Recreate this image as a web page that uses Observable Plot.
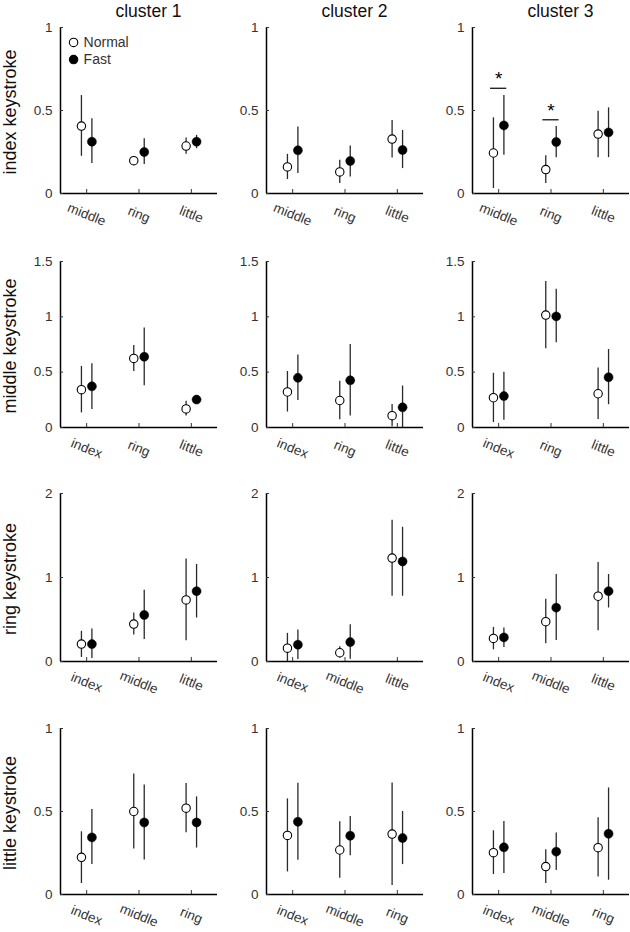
<!DOCTYPE html>
<html><head><meta charset="utf-8">
<script src="https://cdn.jsdelivr.net/npm/d3@7"></script>
<script src="https://cdn.jsdelivr.net/npm/@observablehq/plot@0.6"></script>
<style>
body{margin:0;background:#fff;}
#chart{position:relative;width:630px;height:932px;overflow:hidden;font-family:"Liberation Sans",Arial,sans-serif;background:#fff;}
.panel{position:absolute;}
.title{position:absolute;font-size:17.5px;line-height:1;color:#111;transform:translateX(-50%);white-space:nowrap;}
.ylab{position:absolute;font-size:18px;line-height:1;color:#111;white-space:nowrap;transform:translate(-50%,-50%) rotate(-90deg);}
</style></head><body><div id="chart"></div>
<script>
// ---- data ----
const clusters = ["cluster 1", "cluster 2", "cluster 3"];
const rowLabels = ["index keystroke", "middle keystroke", "ring keystroke", "little keystroke"];
const rowFingers = [["middle","ring","little"],["index","ring","little"],["index","middle","little"],["index","middle","ring"]];
const yMax = [1, 1.5, 2, 1];
const yTicks = [[0,0.5,1],[0,0.5,1,1.5],[0,1,2],[0,0.5,1]];
const legendLabels = ["Normal", "Fast"];
const legendLevels = [0.91, 0.807];

const normalMean = [
  [[0.406,0.198,0.286],[0.16,0.13,0.328],[0.244,0.144,0.358]],
  [[0.342,0.624,0.168],[0.321,0.244,0.107],[0.269,1.016,0.305]],
  [[0.207,0.446,0.733],[0.159,0.104,1.231],[0.275,0.474,0.777]],
  [[0.224,0.5,0.52],[0.356,0.268,0.364],[0.252,0.168,0.282]]
];
const normalLo = [
  [[0.224,0.19,0.236],[0.084,0.06,0.214],[0.03,0.06,0.216]],
  [[0.132,0.507,0.105],[0.14,0.071,0.006],[0.045,0.711,0.072]],
  [[0.048,0.315,0.247],[0,0.04,0.777],[0.139,0.211,0.367]],
  [[0.066,0.274,0.372],[0.136,0.098,0.054],[0.12,0.066,0.106]]
];
const normalHi = [
  [[0.59,0.205,0.334],[0.236,0.2,0.44],[0.456,0.228,0.496]],
  [[0.552,0.741,0.237],[0.506,0.417,0.208],[0.49,1.32,0.538]],
  [[0.359,0.578,1.219],[0.335,0.175,1.681],[0.406,0.741,1.179]],
  [[0.378,0.726,0.668],[0.576,0.438,0.672],[0.384,0.27,0.462]]
];
const fastMean = [
  [[0.312,0.25,0.312],[0.26,0.196,0.262],[0.41,0.31,0.368]],
  [[0.372,0.639,0.252],[0.449,0.426,0.182],[0.284,1.004,0.454]],
  [[0.207,0.554,0.837],[0.2,0.231,1.191],[0.287,0.641,0.837]],
  [[0.344,0.434,0.434],[0.438,0.354,0.34],[0.284,0.258,0.366]]
];
const fastLo = [
  [[0.18,0.174,0.27],[0.12,0.10,0.15],[0.23,0.216,0.216]],
  [[0.162,0.378,0.245],[0.244,0.104,0],[0.066,0.765,0.206]],
  [[0.036,0.263,0.518],[0.024,0.028,0.777],[0.167,0.251,0.637]],
  [[0.18,0.208,0.28],[0.206,0.234,0.18],[0.126,0.144,0.086]]
];
const fastHi = [
  [[0.45,0.33,0.35],[0.40,0.286,0.38],[0.59,0.404,0.516]],
  [[0.576,0.90,0.26],[0.655,0.75,0.375],[0.499,1.249,0.705]],
  [[0.386,0.849,1.155],[0.375,0.438,1.598],[0.398,1.036,1.036]],
  [[0.512,0.66,0.588],[0.67,0.47,0.50],[0.44,0.37,0.642]]
];
// significance markers (row 0, cluster 3)
const sigRow = 0, sigCol = 2;
const sigCategory = [1, 2];
const sigLevel = [0.634, 0.444];

// ---- layout ----
const colAxisX = [60, 266, 472];
const rowTop = [27, 261, 493, 728];
const rowFrameH = [166, 166, 168, 166];
const frameW = 157;
const mL = 40, mR = 4, mT = 12, mB = 38;

const chart = document.getElementById("chart");

function panel(r, c) {
  const rows = [];
  for (let k = 0; k < 3; k++) {
    rows.push({pos: k + 1 - 0.1, mean: normalMean[r][c][k], lo: normalLo[r][c][k], hi: normalHi[r][c][k], cond: "Normal"});
    rows.push({pos: k + 1 + 0.1, mean: fastMean[r][c][k], lo: fastLo[r][c][k], hi: fastHi[r][c][k], cond: "Fast"});
  }
  const marks = [
    Plot.ruleX(rows, {x: "pos", y1: "lo", y2: "hi", stroke: "#2a2a2a", strokeWidth: 1.3}),
    Plot.dot(rows, {filter: d => d.cond === "Normal", x: "pos", y: "mean", r: 4.2, fill: "#fff", stroke: "#000", strokeWidth: 1.1}),
    Plot.dot(rows, {filter: d => d.cond === "Fast", x: "pos", y: "mean", r: 4.5, fill: "#000", stroke: "#000", strokeWidth: 0.5}),
    Plot.ruleX([0.5], {stroke: "#000", strokeWidth: 1.5}),
    Plot.ruleY([0], {stroke: "#000", strokeWidth: 1.5}),
    Plot.axisY({ticks: yTicks[r], tickSize: -3, tickPadding: 11, tickFormat: d => String(d), fontSize: 13.5, color: "#333", label: null}),
    Plot.axisX({ticks: [1, 2, 3], tickSize: -4, tickFormat: () => "", label: null, color: "#333"}),
    Plot.text(rowFingers[r], {x: (d, i) => i + 1, frameAnchor: "bottom", dy: 21, rotate: 22, text: d => d, fontSize: 13.5, fill: "#333", textAnchor: "middle", lineAnchor: "middle"})
  ];
  if (r === 0 && c === 0) {
    marks.push(
      Plot.dot(legendLabels, {x: () => 0.75, y: (d, i) => legendLevels[i], r: 4.2, fill: (d, i) => i === 0 ? "#fff" : "#000", stroke: "#000", strokeWidth: 1.1}),
      Plot.text(legendLabels, {x: () => 0.75, y: (d, i) => legendLevels[i], text: d => d, dx: 10, textAnchor: "start", fontSize: 14, fill: "#333"})
    );
  }
  if (r === sigRow && c === sigCol) {
    marks.push(
      Plot.ruleY(sigLevel, {y: d => d, x1: (d, i) => sigCategory[i] - 0.155, x2: (d, i) => sigCategory[i] + 0.155, stroke: "#000", strokeWidth: 1.2}),
      Plot.text(sigLevel, {x: (d, i) => sigCategory[i], y: d => d, text: () => "*", dy: -3, lineAnchor: "bottom", fontSize: 19, fill: "#000"})
    );
  }
  const p = Plot.plot({
    width: mL + frameW + mR,
    height: mT + rowFrameH[r] + mB,
    marginLeft: mL, marginRight: mR, marginTop: mT, marginBottom: mB,
    x: {domain: [0.5, 3.5], axis: null},
    y: {domain: [0, yMax[r]], axis: null},
    style: {fontFamily: "Liberation Sans, Arial, sans-serif", background: "transparent", overflow: "visible"},
    marks
  });
  p.classList.add("panel");
  p.style.left = (colAxisX[c] - mL) + "px";
  p.style.top = (rowTop[r] - mT) + "px";
  chart.appendChild(p);
}

for (let r = 0; r < 4; r++) for (let c = 0; c < 3; c++) panel(r, c);

clusters.forEach((t, c) => {
  const d = document.createElement("div");
  d.className = "title";
  d.textContent = t;
  d.style.left = (colAxisX[c] + frameW / 2 + 10) + "px";
  d.style.top = "3px";
  chart.appendChild(d);
});
rowLabels.forEach((t, r) => {
  const d = document.createElement("div");
  d.className = "ylab";
  d.textContent = t;
  d.style.left = "10px";
  d.style.top = (rowTop[r] + rowFrameH[r] / 2 + 2) + "px";
  chart.appendChild(d);
});
</script></body></html>
